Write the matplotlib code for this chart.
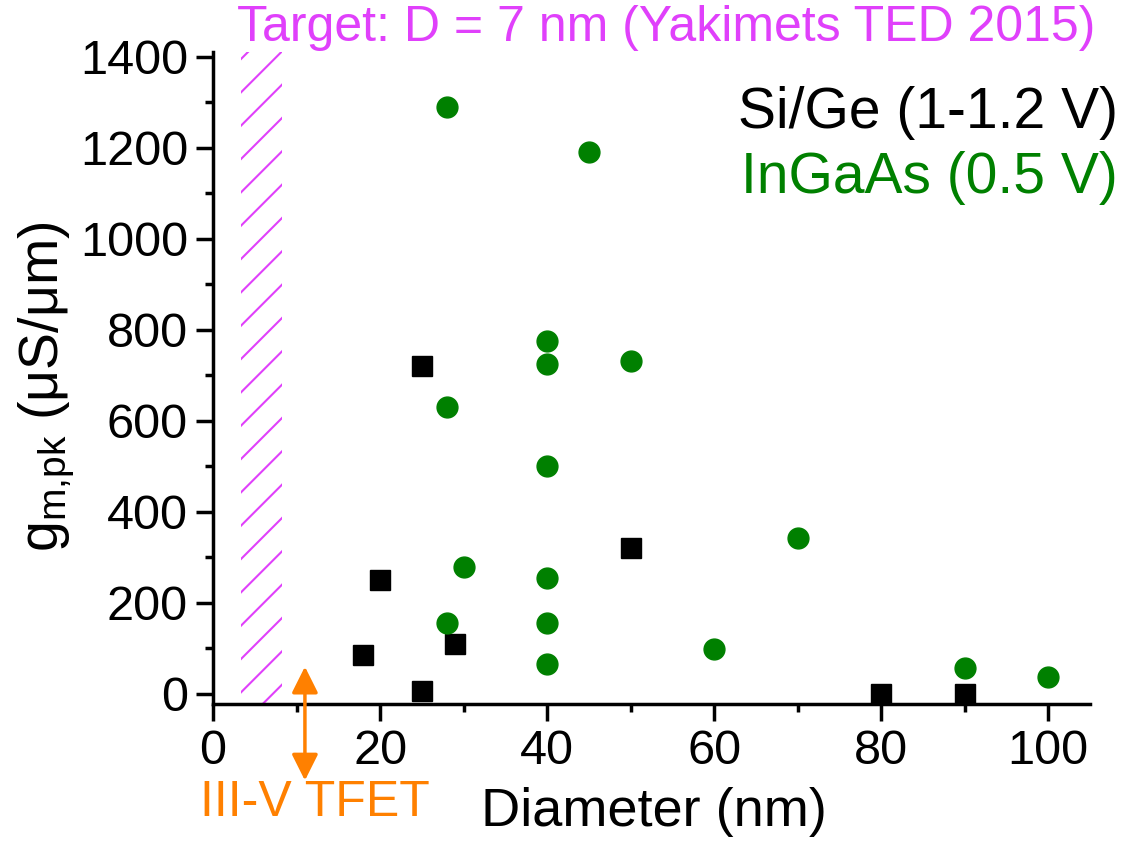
import numpy as np
from matplotlib import pyplot as plt
from matplotlib.ticker import MultipleLocator

plt.rcParams['font.family'] = ['Liberation Sans', 'DejaVu Sans']
plt.rcParams['mathtext.fontset'] = 'custom'
plt.rcParams['mathtext.rm'] = 'Liberation Sans'
plt.rcParams['mathtext.it'] = 'Liberation Sans'
plt.rcParams['hatch.linewidth'] = 1.5

# Si/Ge devices (1-1.2 V)
sige_d = np.array([25, 20, 18, 25, 29, 50, 80, 90])
sige_gm = np.array([720, 250, 85, 7, 110, 320, 0, 0])

# InGaAs devices (0.5 V)
ingaas_d = np.array([28, 45, 40, 40, 50, 28, 40, 70, 30, 40, 28, 40, 40, 60, 90, 100])
ingaas_gm = np.array([1290, 1190, 775, 725, 732, 631, 500, 343, 280, 255, 155, 157, 65, 99, 58, 37])

target_band = (3.4, 8.3)
tfet_d = 11

purple = '#E040FB'
green = '#008000'
orange = '#FF8000'

fig = plt.figure(figsize=(11.29, 8.41), dpi=100)
ax = fig.add_axes([0.1887, 0.1629, 0.9655 - 0.1887, 0.938 - 0.1629])

# hatched target band
ax.axvspan(target_band[0], target_band[1], ymin=0, ymax=1, facecolor='none',
           edgecolor=purple, hatch='/', linewidth=0)
ax.plot(sige_d, sige_gm, 's', color='black', markersize=14, clip_on=False, zorder=3)
ax.plot(ingaas_d, ingaas_gm, 'o', color=green, markersize=15, clip_on=False, zorder=3)

ax.annotate('', xy=(tfet_d, 60), xytext=(tfet_d, -190),
            arrowprops=dict(arrowstyle='<|-|>', color=orange, lw=2.5,
                            mutation_scale=40, shrinkA=0, shrinkB=0),
            annotation_clip=False)
ax.text(12.2, -190, 'III-V TFET', color=orange, fontsize=36,
        ha='center', va='top', clip_on=False)

ax.set_xlim(0, 105)
ax.set_ylim(-22, 1410)
ax.xaxis.set_major_locator(MultipleLocator(20))
ax.xaxis.set_minor_locator(MultipleLocator(10))
ax.yaxis.set_major_locator(MultipleLocator(200))
ax.yaxis.set_minor_locator(MultipleLocator(100))
ax.set_yticks(np.arange(0, 1401, 200))

for s in ['top', 'right']:
    ax.spines[s].set_visible(False)
for s in ['left', 'bottom']:
    ax.spines[s].set_linewidth(2.5)
ax.tick_params(which='major', direction='out', length=12, width=2.5, labelsize=35, pad=6)
ax.tick_params(which='minor', direction='out', length=6, width=2.5)

ax.set_xlabel('Diameter (nm)', fontsize=39)
ax.xaxis.label.set_va('center')
ax.xaxis.set_label_coords(0.503, -0.166)
ax.set_ylabel(r'$\mathregular{g_{m{,}pk}}$ (μS/μm)', fontsize=40)
ax.yaxis.label.set_va('center')
ax.yaxis.set_label_coords(-0.19, 0.486)

fig.text(0.590, 0.967, 'Target: D = 7 nm (Yakimets TED 2015)', color=purple,
         fontsize=36, ha='center', va='center')
fig.text(0.990, 0.866, 'Si/Ge (1-1.2 V)', color='black', fontsize=41, ha='right', va='center')
fig.text(0.990, 0.788, 'InGaAs (0.5 V)', color=green, fontsize=41, ha='right', va='center')

fig.savefig('out.png', dpi=100)
